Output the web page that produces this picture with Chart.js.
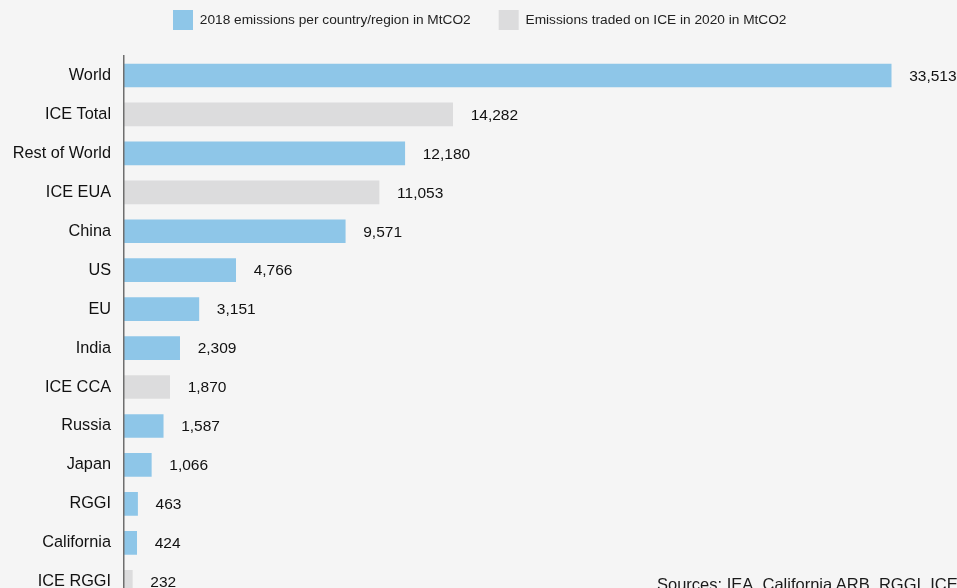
<!DOCTYPE html>
<html>
<head>
<meta charset="utf-8">
<script src="https://cdn.jsdelivr.net/npm/chart.js@4/dist/chart.umd.min.js"></script>
<style>
  html, body { margin: 0; padding: 0; background: #f5f5f5; overflow: hidden; }
  #wrap { position: relative; width: 957px; height: 588px; overflow: hidden; }
  #source {
    position: absolute; left: 657px; top: 575px; white-space: nowrap;
    font-family: "Liberation Sans", Arial, sans-serif; font-size: 16.5px; color: #1a1a1a;
  }
</style>
</head>
<body>
<div id="wrap">
  <canvas id="bar-chart" width="957" height="624"></canvas>
  <div id="source">Sources: IEA, California ARB, RGGI, ICE</div>
</div>
<script>
(function () {
	"use strict";

	var categories = [
		"World", "ICE Total", "Rest of World", "ICE EUA", "China", "US", "EU",
		"India", "ICE CCA", "Russia", "Japan", "RGGI", "California", "ICE RGGI",
	];
	// 2018 emissions per country/region (MtCO2)
	var emissions2018 = [
		33513, null, 12180, null, 9571, 4766, 3151,
		2309, null, 1587, 1066, 463, 424, null,
	];
	// emissions traded on ICE in 2020 (MtCO2)
	var iceTraded2020 = [
		null, 14282, null, 11053, null, null, null,
		null, 1870, null, null, null, null, 232,
	];

	var blue = "#8ec6e8";
	var grey = "#dcdcdd";
	var font = "'Liberation Sans', Arial, sans-serif";
	var axisMin = -132;
	var legendGap = 28;

	// value labels at the end of each bar
	var valueLabels = {
		id: "valueLabels",
		afterDatasetsDraw: function (chart) {
			var ctx = chart.ctx;
			ctx.save();
			ctx.font = "15.5px " + font;
			ctx.fillStyle = "#111";
			ctx.textBaseline = "middle";
			ctx.textAlign = "left";
			chart.data.datasets.forEach(function (ds, i) {
				chart.getDatasetMeta(i).data.forEach(function (bar, j) {
					var v = ds.data[j];
					if (v == null) return;
					ctx.fillText(v.toLocaleString("en-US"), bar.x + 18, bar.y + 1);
				});
			});
			ctx.restore();
		},
	};

	// put the legend where the original has it
	var legendPlace = {
		id: "legendPlace",
		beforeDraw: function (chart) {
			chart.legend.left = 173 - legendGap;
			chart.legend.top = 10 - legendGap;
		},
	};

	var ctx = document.getElementById("bar-chart").getContext("2d");
	new Chart(ctx, {
		type: "bar",
		data: {
			labels: categories,
			datasets: [
				{
					label: "2018 emissions per country/region in MtCO2",
					data: emissions2018,
					backgroundColor: blue,
					borderWidth: 0,
					base: axisMin,
					grouped: false,
					barThickness: 23,
				},
				{
					label: "Emissions traded on ICE in 2020 in MtCO2",
					data: iceTraded2020,
					backgroundColor: grey,
					borderWidth: 0,
					base: axisMin,
					grouped: false,
					barThickness: 23,
				},
			],
		},
		options: {
			indexAxis: "y",
			responsive: false,
			animation: false,
			layout: { padding: { left: 0, right: 57, top: 6, bottom: 0 } },
			scales: {
				x: {
					display: false,
					min: axisMin,
					max: 33900,
				},
				y: {
					grid: { display: false, drawTicks: false },
					border: { display: true, color: "#6e6e6e", width: 1.5, z: 1 },
					ticks: {
						color: "#111",
						padding: 13,
						font: { family: font, size: 16.3 },
					},
					afterFit: function (scale) {
						scale.width = 124;
					},
				},
			},
			plugins: {
				legend: {
					position: "top",
					align: "start",
					maxHeight: 50,
					labels: {
						boxWidth: 20,
						boxHeight: 20,
						padding: legendGap,
						color: "#222",
						font: { family: font, size: 13.7 },
					},
				},
				tooltip: { enabled: false },
			},
		},
		plugins: [valueLabels, legendPlace],
	});
})();
</script>
</body>
</html>
